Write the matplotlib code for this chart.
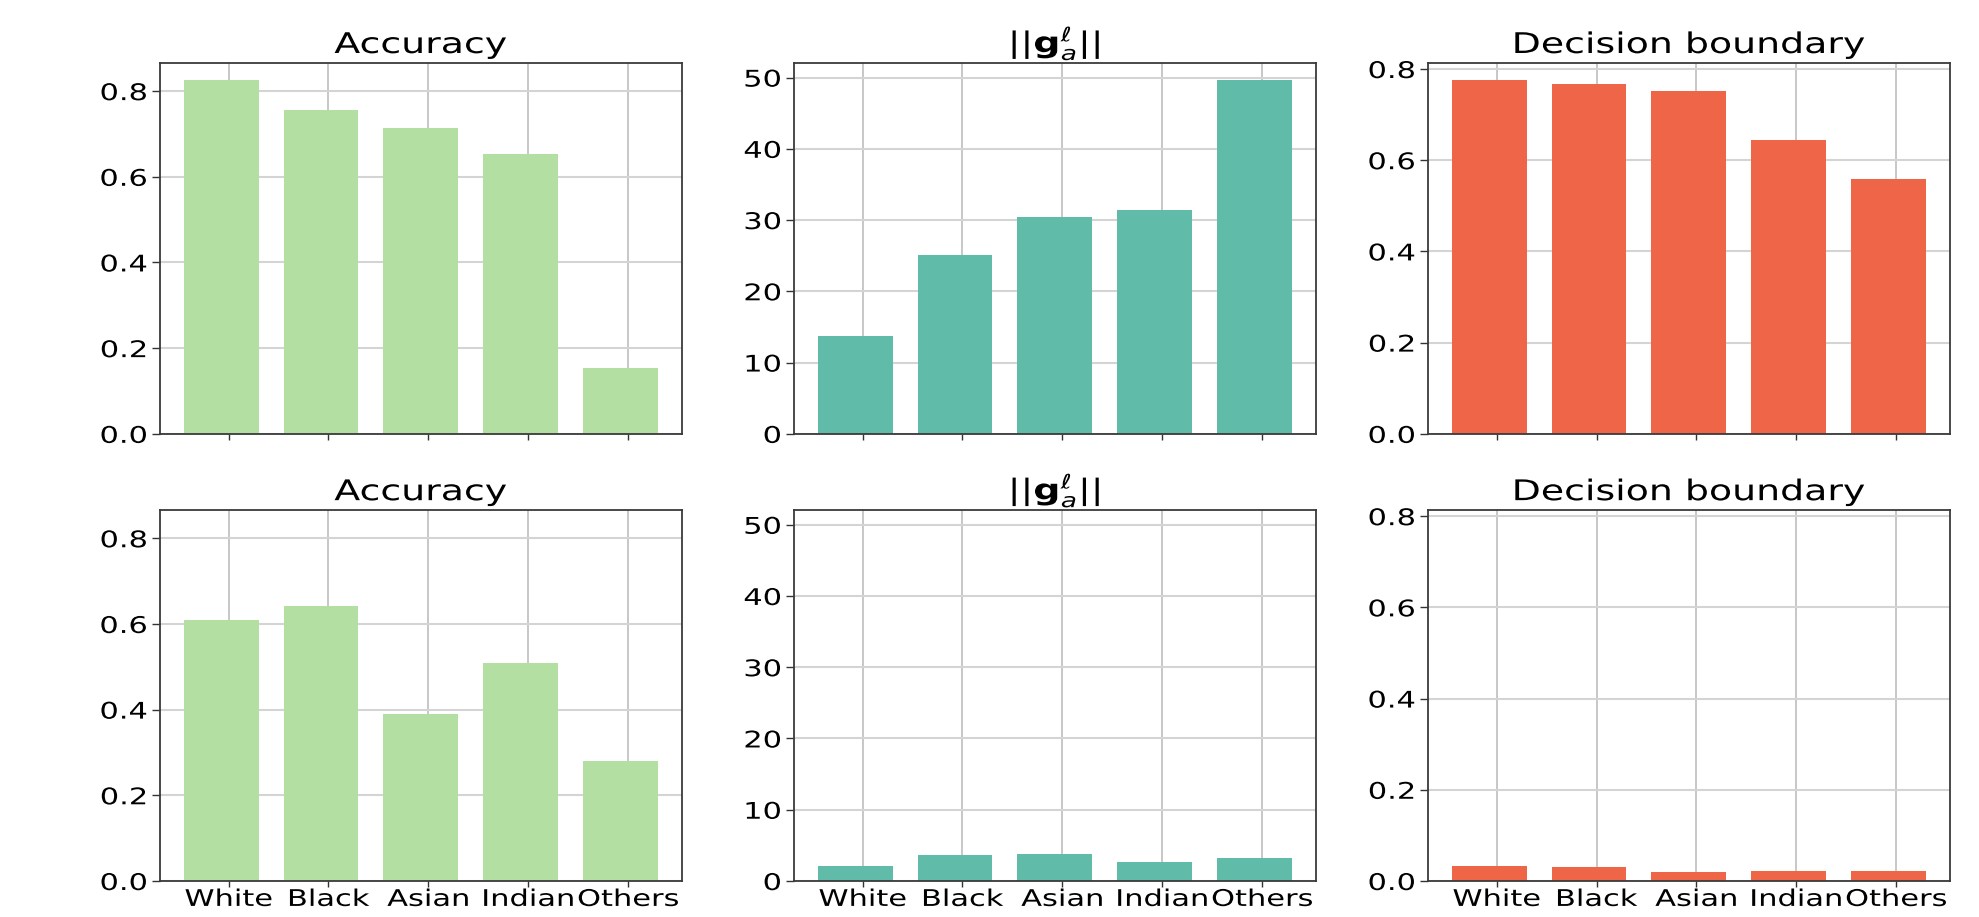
import numpy as np
import matplotlib
matplotlib.use("Agg")
import matplotlib.pyplot as plt
from matplotlib.patheffects import AbstractPathEffect
from matplotlib.transforms import Affine2D

# ---- data -------------------------------------------------------------
groups = ["White", "Black", "Asian", "Indian", "Others"]

acc_top = [0.825, 0.755, 0.714, 0.654, 0.153]
grad_top = [13.75, 25.15, 30.4, 31.4, 49.6]
boundary_top = [0.775, 0.766, 0.752, 0.645, 0.558]

acc_bottom = [0.610, 0.642, 0.390, 0.508, 0.280]
grad_bottom = [2.09, 3.61, 3.75, 2.64, 3.20]
boundary_bottom = [0.0326, 0.0304, 0.0203, 0.0217, 0.0217]

titles = ["Accuracy", r"$||\mathbf{g}_a^\ell||$", "Decision boundary"]
colors = ["#b3dfa3", "#60bba8", "#ee6548"]

# ---- style ------------------------------------------------------------
bar_width = 0.75
bar_shift = -0.075
tick_size = 16.5
title_size = 20.5
text_widen = 1.33


class WideGlyphs(AbstractPathEffect):
    """Draw text glyphs stretched horizontally about an anchor."""

    def __init__(self, factor, anchor="center"):
        super().__init__()
        self.factor = factor
        self.anchor = anchor

    def draw_path(self, renderer, gc, tpath, affine, rgbFace=None):
        ext = tpath.get_extents(affine)
        if self.anchor == "right":
            x0 = ext.x1
        elif self.anchor == "left":
            x0 = ext.x0
        else:
            x0 = 0.5 * (ext.x0 + ext.x1)
        widen = Affine2D().translate(-x0, 0).scale(self.factor, 1.0).translate(x0, 0)
        renderer.draw_path(gc, tpath, affine + widen, rgbFace)


fig, axes = plt.subplots(2, 3, figsize=(19.79, 9.17), dpi=100,
                         sharex=True, sharey="col")
fig.subplots_adjust(left=0.0808, right=0.9853, top=0.9316, bottom=0.0393,
                    wspace=0.2146, hspace=0.205)

rows = [[acc_top, grad_top, boundary_top],
        [acc_bottom, grad_bottom, boundary_bottom]]
x = np.arange(len(groups))

for r, row in enumerate(rows):
    for c, values in enumerate(row):
        ax = axes[r, c]
        ax.set_axisbelow(True)
        ax.bar(x + bar_shift, values, width=bar_width, color=colors[c])
        ax.set_title(titles[c], fontsize=title_size, pad=7)
        ax.set_xticks(x)
        ax.set_xticklabels(groups)
        ax.tick_params(axis="y", labelsize=tick_size, length=5.5,
                       width=1.0, color="#333333", pad=3.5)
        ax.tick_params(axis="x", labelsize=tick_size, length=4.0,
                       width=1.0, color="#333333", pad=1.0)
        ax.yaxis.grid(True, color="#d4d4d4", linewidth=1.5)
        ax.xaxis.grid(True, color="#b8b8b8", linewidth=1.1)
        for sp in ax.spines.values():
            sp.set_color("#3a3a3a")
            sp.set_linewidth(1.3)

fig.canvas.draw()
for ax in axes.flat:
    ax.title.set_path_effects([WideGlyphs(text_widen, "center")])
    for lbl in ax.get_xticklabels():
        lbl.set_path_effects([WideGlyphs(text_widen, "center")])
    for lbl in ax.get_yticklabels():
        lbl.set_path_effects([WideGlyphs(text_widen, "right")])

fig.savefig("out.png", dpi=100)
